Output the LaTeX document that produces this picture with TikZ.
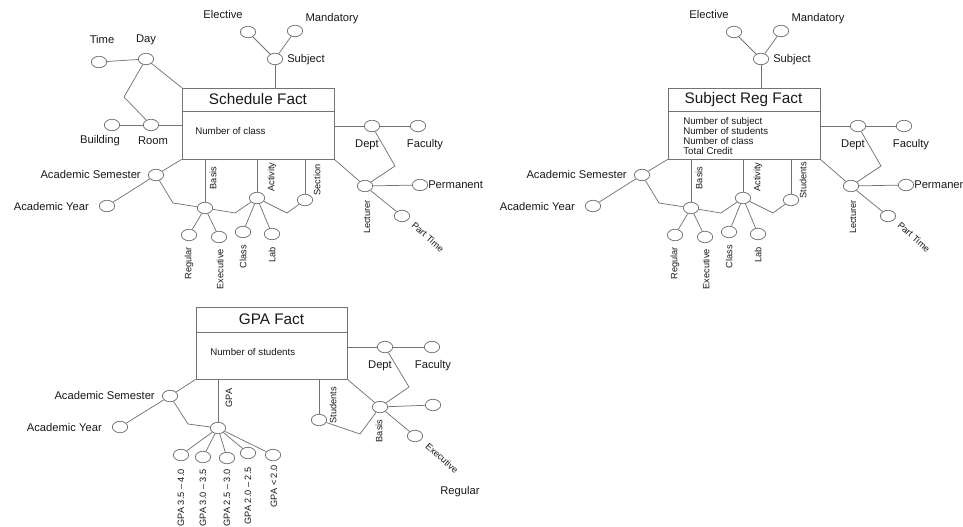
\documentclass[tikz,border=0pt]{standalone}
\usepackage{fontspec}
\setmainfont{Liberation Sans}
\usetikzlibrary{shapes.geometric}
\tikzset{
  conn/.style={draw=black!55, line width=0.55pt},
  attr/.style={ellipse, draw=black!55, line width=0.55pt, fill=white, minimum width=11.5pt, minimum height=8.6pt, inner sep=0pt},
  lbl/.style={font=\fontsize{8.4}{10}\selectfont, text=black!90, inner sep=0pt},
  rlbl/.style={font=\fontsize{6.9}{8}\selectfont, text=black!90, inner sep=0pt, rotate=90},
  dlbl/.style={font=\fontsize{6.9}{8}\selectfont, text=black!90, inner sep=0pt, rotate=-42},
  factbox/.style={rectangle, draw=black!55, line width=0.6pt, inner sep=0pt, fill=white},
  facttitle/.style={font=\fontsize{11.5}{13}\selectfont, text=black!90, inner sep=0pt},
  factbody/.style={font=\fontsize{7.3}{7.5}\selectfont, text=black!90, inner sep=0pt, align=left, anchor=west}
}
% shared star: #1 prefix, #2 x shift, #3 label of third dimension
\newcommand\factcore[3]{%
\begin{scope}[shift={(#2,0)}]
  \node[factbox, minimum width=114pt, minimum height=53.25pt] (#1box) at (258,123.5) {};
  \coordinate (#1sl) at (182,111);
  \coordinate (#1sr) at (334,111);
  \draw[conn] (#1sl) -- (#1sr);
  % subject
  \node[attr] (#1subj) at (275,59) {};
  \node[attr] (#1elec) at (248,32) {};
  \node[attr] (#1mand) at (295,31) {};
  \node[lbl] (#1elecL) at (223,15) {Elective};
  \node[lbl] (#1mandL) at (332,19) {Mandatory};
  \node[lbl, anchor=west] (#1subjL) at (287,60) {Subject};
  % dept / lecturer
  \node[attr] (#1dept) at (372,126) {};
  \node[attr] (#1fac) at (418,126) {};
  \node[lbl] (#1deptL) at (367,145) {Dept};
  \node[lbl] (#1facL) at (425,145) {Faculty};
  \coordinate (#1dbend) at (395,166);
  \node[attr] (#1lect) at (365,186) {};
  \node[attr] (#1perm) at (420,185) {};
  \node[attr] (#1part) at (402,216) {};
  \node[lbl, anchor=west] (#1permL) at (428,185) {Permanent};
  \node[dlbl] (#1partL) at (428,237) {Part Time};
  \node[rlbl] (#1lectL) at (367,217) {Lecturer};
  % academic semester / year
  \node[attr] (#1acs) at (156,175) {};
  \node[attr] (#1acy) at (107,206) {};
  \node[lbl, anchor=east] (#1acsL) at (141,174) {Academic Semester};
  \node[lbl, anchor=east] (#1acyL) at (89,206) {Academic Year};
  \coordinate (#1abend) at (173,203);
  % basis
  \node[attr] (#1bas) at (205,208) {};
  \node[rlbl] (#1basL) at (213,178) {Basis};
  \node[attr] (#1reg) at (189,235) {};
  \node[attr] (#1exe) at (219,237) {};
  \node[rlbl, anchor=east] (#1regL) at (189,247) {Regular};
  \node[rlbl, anchor=east] (#1exeL) at (220,249) {Executive};
  \coordinate (#1bbend) at (235,213);
  % activity
  \node[attr] (#1act) at (257,198) {};
  \node[rlbl] (#1actL) at (272,177) {Activity};
  \node[attr] (#1cls) at (243,232) {};
  \node[attr] (#1lab) at (272,234) {};
  \node[rlbl, anchor=east] (#1clsL) at (243,245) {Class};
  \node[rlbl, anchor=east] (#1labL) at (272,247) {Lab};
  \coordinate (#1cbend) at (287,213);
  % third
  \node[attr] (#1sec) at (305,200) {};
  \node[rlbl] (#1secL) at (317,180) {#3};
  % connectors
  \draw[conn] (#1subj) -- (#1elec);
  \draw[conn] (#1subj) -- (#1mand);
  \draw[conn] (#1subj) -- (#1subj |- #1box.north);
  \draw[conn] (#1dept -| #1box.east) -- (#1dept);
  \draw[conn] (#1dept) -- (#1fac);
  \draw[conn] (#1dept) -- (#1dbend) -- (#1lect);
  \draw[conn] (#1box.south east) -- (#1lect);
  \draw[conn] (#1lect) -- (#1perm);
  \draw[conn] (#1lect) -- (#1part);
  \draw[conn] (#1box.south west) -- (#1acs);
  \draw[conn] (#1acs) -- (#1acy);
  \draw[conn] (#1acs) -- (#1abend) -- (#1bas);
  \draw[conn] (#1bas |- #1box.south) -- (#1bas);
  \draw[conn] (#1bas) -- (#1reg);
  \draw[conn] (#1bas) -- (#1exe);
  \draw[conn] (#1bas) -- (#1bbend) -- (#1act);
  \draw[conn] (#1act |- #1box.south) -- (#1act);
  \draw[conn] (#1act) -- (#1cls);
  \draw[conn] (#1act) -- (#1lab);
  \draw[conn] (#1act) -- (#1cbend) -- (#1sec);
  \draw[conn] (#1sec |- #1box.south) -- (#1sec);
\end{scope}}

\begin{document}
\begin{tikzpicture}[x=0.75pt,y=-0.75pt]
\fill[white] (0,0) rectangle (963,527);
\useasboundingbox (0,0) rectangle (963,527);

% ---------------- Schedule Fact ----------------
\factcore{s}{0}{Section}
\node[facttitle] (stitle) at (258,99.5) {Schedule Fact};
\node[factbody] (sbody) at (195,131) {Number of class};
\node[attr] (sday) at (146,59) {};
\node[attr] (stime) at (99,62) {};
\node[lbl] (stimeL) at (102,40) {Time};
\node[lbl] (sdayL) at (146,40) {Day};
\node[attr] (sroom) at (151,125) {};
\node[attr] (sbldg) at (112,125) {};
\node[lbl] (sbldgL) at (100,141) {Building};
\node[lbl] (sroomL) at (153,141) {Room};
\coordinate (sdbend) at (124,97);
\draw[conn] (stime) -- (sday);
\draw[conn] (sday) -- (sbox.north west);
\draw[conn] (sday) -- (sdbend) -- (sroom);
\draw[conn] (sbldg) -- (sroom);
\draw[conn] (sroom) -- (sroom -| sbox.west);

% ---------------- Subject Reg Fact ----------------
\factcore{r}{486}{Students}
\node[facttitle] (rtitle) at (743.5,99.5) {Subject Reg Fact};
\node[factbody] (rbody) at (683,136) {Number of subject\\Number of students\\Number of class\\Total Credit};

% ---------------- GPA Fact ----------------
\node[factbox, minimum width=113.25pt, minimum height=54pt] (gbox) at (271.5,343) {};
\coordinate (gsl) at (196,332);
\coordinate (gsr) at (347,332);
\draw[conn] (gsl) -- (gsr);
\node[facttitle] (gtitle) at (271.5,319.5) {GPA Fact};
\node[factbody] (gbody) at (210,352) {Number of students};

\node[attr] (gdept) at (385,347) {};
\node[attr] (gfac) at (432,347) {};
\node[lbl] (gdeptL) at (380,366) {Dept};
\node[lbl] (gfacL) at (433,366) {Faculty};
\coordinate (gdbend) at (409,387);
\node[attr] (gbas) at (380,407) {};
\node[attr] (gx) at (433,405) {};
\node[attr] (gexe) at (415,436) {};
\node[dlbl] (gexeL) at (442,458) {Executive};
\node[lbl, anchor=west] (gregL) at (440,492) {Regular};
\node[rlbl] (gbasL) at (379,431) {Basis};
\node[attr] (gstu) at (319,420) {};
\node[rlbl] (gstuL) at (333,405) {Students};
\coordinate (gsbend) at (360,434);

\node[attr] (ggpa) at (218,428) {};
\node[rlbl] (ggpaL) at (229,398) {GPA};
\node[attr] (gacs) at (170,396) {};
\node[attr] (gacy) at (120,427) {};
\node[lbl, anchor=east] (gacsL) at (155,395) {Academic Semester};
\node[lbl, anchor=east] (gacyL) at (102,427) {Academic Year};
\coordinate (gabend) at (188,424);

\node[attr] (g1) at (181,455) {};
\node[attr] (g2) at (203,457) {};
\node[attr] (g3) at (227,458) {};
\node[attr] (g4) at (248,453) {};
\node[attr] (g5) at (273,455) {};
\node[rlbl, anchor=east] (g1L) at (181,469) {GPA 3.5 – 4.0};
\node[rlbl, anchor=east] (g2L) at (203,469) {GPA 3.0 – 3.5};
\node[rlbl, anchor=east] (g3L) at (227,469) {GPA 2.5 – 3.0};
\node[rlbl, anchor=east] (g4L) at (248,467) {GPA 2.0 – 2.5};
\node[rlbl, anchor=east] (g5L) at (274,465) {GPA < 2.0};

\draw[conn] (gdept -| gbox.east) -- (gdept);
\draw[conn] (gdept) -- (gfac);
\draw[conn] (gdept) -- (gdbend) -- (gbas);
\draw[conn] (gbox.south east) -- (gbas);
\draw[conn] (gbas) -- (gx);
\draw[conn] (gbas) -- (gexe);
\draw[conn] (gstu |- gbox.south) -- (gstu);
\draw[conn] (gstu) -- (gsbend) -- (gbas);
\draw[conn] (ggpa |- gbox.south) -- (ggpa);
\draw[conn] (gbox.south west) -- (gacs);
\draw[conn] (gacs) -- (gacy);
\draw[conn] (gacs) -- (gabend) -- (ggpa);
\foreach \k in {1,...,5} { \draw[conn] (ggpa) -- (g\k); }
\end{tikzpicture}
\end{document}
